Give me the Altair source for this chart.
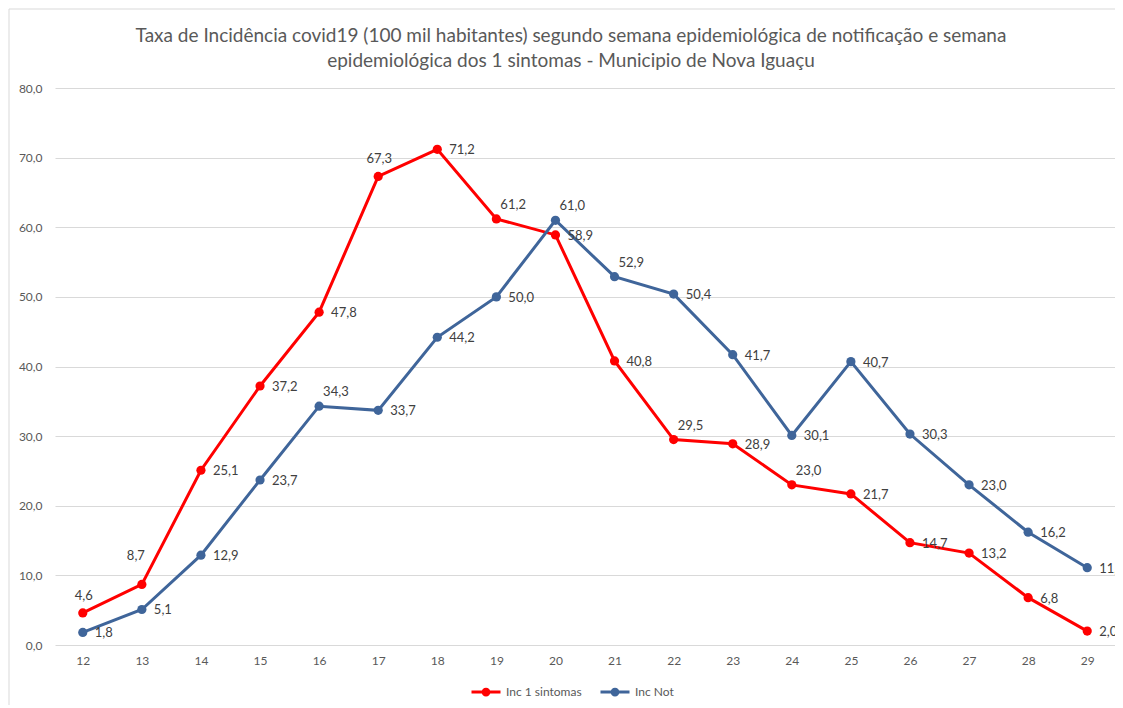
import altair as alt
import pandas as pd

# ---- data ----
weeks = list(range(12, 30))
inc_sintomas = [4.6, 8.7, 25.1, 37.2, 47.8, 67.3, 71.2, 61.2, 58.9, 40.8,
                29.5, 28.9, 23.0, 21.7, 14.7, 13.2, 6.8, 2.0]
inc_not = [1.8, 5.1, 12.9, 23.7, 34.3, 33.7, 44.2, 50.0, 61.0, 52.9,
           50.4, 41.7, 30.1, 40.7, 30.3, 23.0, 16.2, 11.1]
series_names = ["Inc 1 sintomas", "Inc Not"]
y_ticks = [0, 10, 20, 30, 40, 50, 60, 70, 80]

title_lines = [
    "Taxa de Incidência covid19 (100 mil habitantes) segundo semana epidemiológica de notificação e semana",
    "epidemiológica dos 1 sintomas - Municipio de Nova Iguaçu",
]

# ---- label placement (style only) ----
place = {
    "Inc 1 sintomas": {12: "above", 13: "aboveleft", 17: "above", 19: "aboveright",
                       22: "aboveright", 24: "aboveright"},
    "Inc Not": {16: "aboveright", 20: "aboveright", 21: "aboveright"},
}
offsets = {
    "right": dict(dx=12, dy=1, align="left"),
    "above": dict(dx=1, dy=-17, align="center"),
    "aboveleft": dict(dx=-6, dy=-28, align="center"),
    "aboveright": dict(dx=4, dy=-14, align="left"),
}

rows = []
for name, vals in zip(series_names, [inc_sintomas, inc_not]):
    for w, v in zip(weeks, vals):
        rows.append({
            "semana": w,
            "valor": v,
            "serie": name,
            "rotulo": f"{v:.1f}".replace(".", ","),
            "pos": place[name].get(w, "right"),
        })
df = pd.DataFrame(rows)

colors = ["#ff0000", "#3f659a"]
color = alt.Color(
    "serie:N",
    scale=alt.Scale(domain=series_names, range=colors),
    legend=alt.Legend(
        title=None,
        orient="none",
        legendX=415,
        legendY=588,
        direction="horizontal",
        symbolType="M-1,0L1,0M0.2,0A0.2,0.2,0,1,1,-0.2,0A0.2,0.2,0,1,1,0.2,0Z",
        symbolSize=841,
        symbolStrokeWidth=3,
        labelFont="Lato",
        labelFontSize=12,
        labelColor="#595959",
        labelOffset=4,
        columnPadding=12,
    ),
)

x = alt.X(
    "semana:O",
    scale=alt.Scale(type="point", padding=0.47),
    axis=alt.Axis(title=None, labelAngle=0, domain=False, ticks=False,
                  labelPadding=10, grid=False),
)
y = alt.Y(
    "valor:Q",
    scale=alt.Scale(domain=[0, 80], nice=False),
    axis=alt.Axis(title=None, values=y_ticks, domain=False, ticks=False,
                  labelPadding=13, gridColor="#d9d9d9", gridWidth=1,
                  labelExpr="replace(format(datum.value, '.1f'), '.', ',')"),
)

base = alt.Chart(df)

border = alt.Chart(pd.DataFrame({"a": [0]})).mark_rect(
    fillOpacity=0, stroke="#d9d9d9", strokeWidth=1
).encode(x=alt.value(-46), x2=alt.value(1100), y=alt.value(-79), y2=alt.value(640))

layers = [border]
for name in series_names:
    s = base.transform_filter(alt.datum.serie == name)
    layers.append(s.mark_line(strokeWidth=3).encode(x=x, y=y, color=color))
    layers.append(s.mark_point(filled=True, size=85, opacity=1).encode(x=x, y=y, color=color))

for pos, o in offsets.items():
    layers.append(
        base.transform_filter(alt.datum.pos == pos)
        .mark_text(font="Lato", fontSize=13, color="#404040", baseline="middle", **o)
        .encode(x=x, y=y, text="rotulo:N")
    )

chart = alt.layer(*layers).properties(
    width=1060,
    height=557,
    autosize=alt.AutoSizeParams(type="none"),
    padding={"left": 47, "top": 80, "right": 0, "bottom": 60},
    title=alt.TitleParams(
        text=title_lines,
        font="Lato",
        fontSize=19,
        fontWeight="normal",
        color="#595959",
        anchor="middle",
        frame="group",
        lineHeight=25,
        offset=0,
        dx=-14,
        dy=62,
    ),
).configure_view(stroke=None).configure_axis(
    labelFont="Lato", labelFontSize=12, labelColor="#595959"
)

chart.save("out.html", embed_options={"renderer": "svg", "actions": False})
